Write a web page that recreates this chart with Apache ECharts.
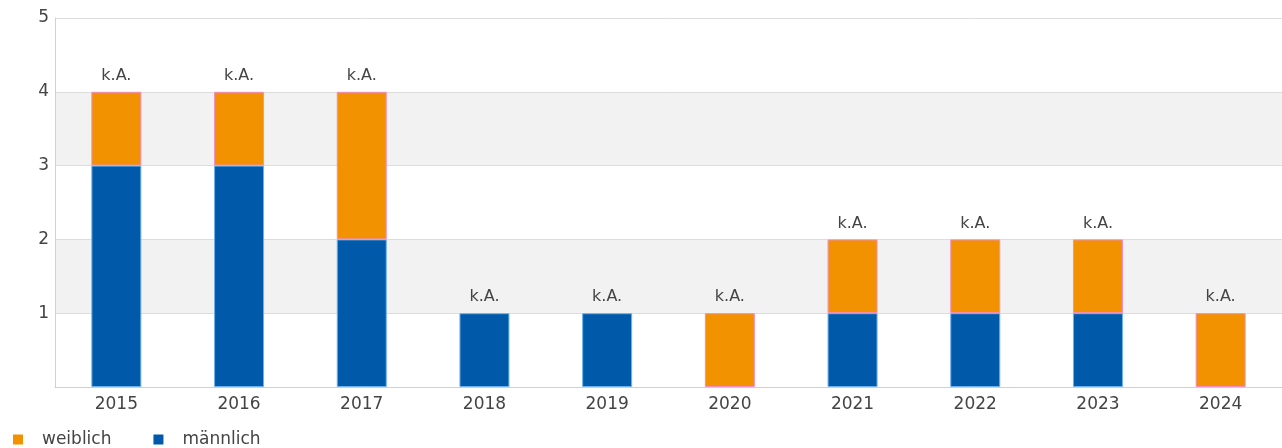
<!DOCTYPE html>
<html>
<head>
<meta charset="utf-8">
<script src="https://cdn.jsdelivr.net/npm/echarts@6/dist/echarts.min.js"></script>
<style>
  html, body { margin: 0; padding: 0; background: #fff; }
  #box { width: 1282px; height: 448px; }
</style>
</head>
<body>
<div id="box"></div>
<script>
// Jahre
var years = ['2015', '2016', '2017', '2018', '2019', '2020', '2021', '2022', '2023', '2024'];
// Werte je Geschlecht
var weiblich = [1, 1, 2, 0, 0, 1, 1, 1, 1, 1];
var maennlich = [3, 3, 2, 1, 1, 0, 1, 1, 1, 0];
// Beschriftung über den Säulen
var topLabels = ['k.A.', 'k.A.', 'k.A.', 'k.A.', 'k.A.', 'k.A.', 'k.A.', 'k.A.', 'k.A.', 'k.A.'];
var yTicks = [0, 1, 2, 3, 4, 5];

var font = 'DejaVu Sans';
var textColor = '#444';

// 0 -> keine Säule zeichnen (sonst bleibt der Rand sichtbar)
function noZero(arr) {
  return arr.map(function (v) { return v === 0 ? '-' : v; });
}

var myChart = echarts.init(document.getElementById('box'));
var option = {
  animation: false,
  textStyle: { fontFamily: font },
  grid: { left: 55, right: 0, top: 18, bottom: 61 },
  legend: {
    data: ['weiblich', 'männlich'],
    left: 8,
    bottom: -5,
    itemWidth: 10,
    itemHeight: 10,
    itemGap: 42,
    icon: 'rect',
    itemStyle: { borderWidth: 0 },
    textStyle: { fontFamily: font, fontSize: 17, color: textColor, padding: [0, 0, 0, 14] }
  },
  xAxis: {
    type: 'category',
    data: years,
    axisLine: { lineStyle: { color: '#d0d0d0' } },
    axisTick: { show: false },
    axisLabel: { fontFamily: font, fontSize: 17, color: textColor, margin: 9 }
  },
  yAxis: {
    type: 'value',
    min: yTicks[0],
    max: yTicks[yTicks.length - 1],
    interval: 1,
    axisLine: { show: true, lineStyle: { color: '#d0d0d0' } },
    axisTick: { show: false },
    axisLabel: {
      fontFamily: font, fontSize: 17, color: textColor, margin: 6,
      formatter: function (v) { return v === 0 ? '' : v; }
    },
    splitLine: { lineStyle: { color: '#dcdcdc' } },
    splitArea: { show: true, areaStyle: { color: ['#ffffff', '#f2f2f2'] } }
  },
  series: [
    {
      name: 'männlich',
      type: 'bar',
      stack: 'g',
      barWidth: 50,
      data: noZero(maennlich),
      itemStyle: { color: '#005aa9', borderColor: '#6eb0f0', borderWidth: 1 }
    },
    {
      name: 'weiblich',
      type: 'bar',
      stack: 'g',
      data: noZero(weiblich),
      itemStyle: { color: '#f39200', borderColor: '#f48cc4', borderWidth: 1 }
    },
    {
      name: 'label',
      type: 'bar',
      stack: 'g',
      data: years.map(function () { return 0; }),
      itemStyle: { color: 'transparent', borderWidth: 0 },
      label: {
        show: true,
        position: 'top',
        distance: 8,
        fontFamily: font,
        fontSize: 16,
        color: textColor,
        formatter: function (p) { return topLabels[p.dataIndex]; }
      }
    }
  ]
};
myChart.setOption(option);
</script>
</body>
</html>
